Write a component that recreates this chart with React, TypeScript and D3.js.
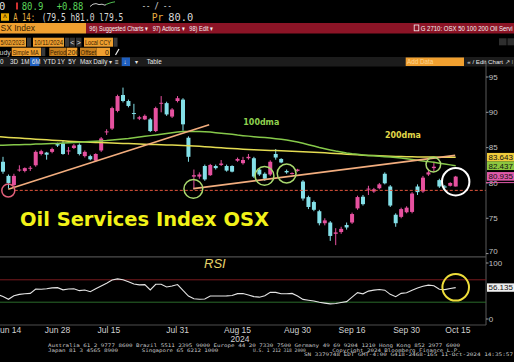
import React from "react";
import * as d3 from "d3";

// trading days shown (Jun 13 .. Oct 11, 2024)
const days = [
  "Jun 13", "Jun 14", "Jun 17", "Jun 18", "Jun 20", "Jun 21", "Jun 24", "Jun 25", "Jun 26", "Jun 27", "Jun 28",
  "Jul 1", "Jul 2", "Jul 3", "Jul 5", "Jul 8", "Jul 9", "Jul 10", "Jul 11", "Jul 12", "Jul 15", "Jul 16",
  "Jul 17", "Jul 18", "Jul 19", "Jul 22", "Jul 23", "Jul 24", "Jul 25", "Jul 26", "Jul 29", "Jul 30", "Jul 31",
  "Aug 1", "Aug 2", "Aug 5", "Aug 6", "Aug 7", "Aug 8", "Aug 9", "Aug 12", "Aug 13", "Aug 14", "Aug 15",
  "Aug 16", "Aug 19", "Aug 20", "Aug 21", "Aug 22", "Aug 23", "Aug 26", "Aug 27", "Aug 28", "Aug 29", "Aug 30",
  "Sep 3", "Sep 4", "Sep 5", "Sep 6", "Sep 9", "Sep 10", "Sep 11", "Sep 12", "Sep 13", "Sep 16", "Sep 17",
  "Sep 18", "Sep 19", "Sep 20", "Sep 23", "Sep 24", "Sep 25", "Sep 26", "Sep 27", "Sep 30",
  "Oct 1", "Oct 2", "Oct 3", "Oct 4", "Oct 7", "Oct 8", "Oct 9", "Oct 10", "Oct 11",
];

const opens = [
  83.0, 81.0, 79.7, 81.8, 81.7, 82.1, 82.5, 84.1, 84.3, 84.4, 85.5,
  85.6, 84.5, 84.95, 85.4, 83.8, 83.8, 83.15, 84.6, 87.2, 87.7, 90.2,
  92.45, 91.6, 89.9, 89.1, 89.0, 89.0, 87.35, 91.3, 91.3, 89.4, 91.6,
  91.8, 86.4, 80.9, 80.9, 82.4, 81.1, 82.4, 82.55, 82.4, 82.4, 83.15,
  82.8, 83.5, 83.5, 81.9, 81.3, 81.2, 84.1, 83.4, 81.7, 81.3, 81.7,
  80.2, 78.0, 77.3, 76.0, 74.3, 74.4, 72.8, 73.05, 74.05, 74.4, 76.4,
  78.05, 79.1, 78.8, 79.25, 81.3, 79.5, 75.5, 75.2, 75.85,
  75.9, 79.5, 78.8, 81.2, 82.1, 80.4, 79.5, 79.6, 79.5,
];
const highs = [
  83.7, 81.2, 81.3, 82.5, 82.2, 82.4, 84.6, 84.7, 84.4, 85.0, 85.7,
  86.0, 85.1, 85.5, 85.6, 84.6, 84.0, 84.2, 86.5, 87.6, 90.8, 92.5,
  93.5, 91.8, 91.2, 89.5, 89.7, 89.2, 90.8, 92.3, 91.5, 90.6, 92.3,
  92.0, 86.6, 81.9, 81.5, 82.6, 82.7, 82.6, 83.25, 82.6, 82.5, 83.6,
  83.7, 84.1, 83.7, 82.1, 81.5, 83.2, 84.8, 83.5, 81.9, 81.5, 82.0,
  80.4, 78.2, 77.5, 76.2, 75.0, 74.6, 73.6, 73.8, 74.4, 75.8, 78.2,
  78.3, 79.6, 79.3, 80.0, 81.5, 79.7, 75.7, 76.5, 76.7,
  78.7, 79.8, 81.0, 82.0, 83.0, 80.6, 79.7, 80.1, 81.0,
];
const lows = [
  81.3, 79.2, 79.4, 81.6, 81.5, 81.7, 82.3, 83.9, 83.3, 84.2, 85.1,
  84.0, 84.0, 84.8, 83.9, 83.6, 83.2, 83.0, 84.4, 86.8, 87.5, 90.0,
  91.4, 90.7, 89.0, 88.9, 88.9, 87.2, 87.2, 90.0, 89.5, 89.2, 91.4,
  87.4, 83.0, 79.1, 80.6, 80.3, 81.0, 81.9, 82.4, 81.6, 81.5, 83.0,
  82.6, 83.3, 80.7, 81.0, 80.3, 81.0, 83.3, 82.8, 81.3, 81.2, 81.6,
  77.5, 76.3, 76.0, 74.0, 74.0, 71.8, 71.2, 72.8, 73.4, 74.2, 76.2,
  76.8, 78.3, 78.6, 79.1, 79.8, 76.6, 73.8, 75.0, 75.7,
  75.7, 78.3, 78.6, 81.0, 81.6, 79.3, 79.2, 79.5, 79.5,
];
const closes = [
  81.6, 80.0, 81.0, 81.9, 82.1, 82.15, 84.4, 84.5, 84.0, 84.8, 85.3,
  84.1, 84.6, 85.3, 84.1, 84.4, 83.35, 84.1, 86.3, 87.3, 90.6, 92.3,
  91.6, 90.9, 89.8, 89.3, 89.5, 87.35, 90.6, 91.35, 89.7, 90.4, 92.0,
  88.3, 83.7, 81.1, 81.2, 80.5, 82.55, 82.1, 82.75, 81.75, 81.6, 83.4,
  83.25, 83.7, 80.9, 81.2, 80.6, 83.0, 83.6, 82.9, 81.5, 81.4, 81.9,
  77.8, 76.6, 76.2, 74.3, 74.7, 72.5, 73.0, 73.5, 73.7, 75.6, 78.0,
  77.0, 79.2, 79.1, 79.8, 79.95, 76.8, 74.3, 76.3, 76.5,
  78.5, 78.7, 80.75, 81.5, 82.3, 79.5, 79.4, 80.0, 80.9,
];

// moving averages and RSI start one session earlier (Jun 12)
const ma100 = [
  85.3, 85.35, 85.37, 85.4, 85.42, 85.44, 85.46, 85.5, 85.52, 85.55, 85.57, 85.6,
  85.65, 85.7, 85.74, 85.78, 85.82, 85.86, 85.9, 85.95, 86.0, 86.07, 86.14,
  86.22, 86.3, 86.4, 86.5, 86.6, 86.7, 86.8, 86.9, 87.0, 87.1, 87.2,
  87.27, 87.3, 87.3, 87.28, 87.25, 87.2, 87.12, 87.05, 86.97, 86.88, 86.78,
  86.7, 86.63, 86.55, 86.48, 86.42, 86.35, 86.27, 86.18, 86.07, 85.95, 85.8,
  85.62, 85.42, 85.22, 85.02, 84.85, 84.68, 84.52, 84.38, 84.25, 84.14, 84.05,
  83.97, 83.9, 83.84, 83.78, 83.72, 83.66, 83.6, 83.52, 83.42,
  83.32, 83.22, 83.12, 83.02, 82.92, 82.8, 82.68, 82.56, 82.44,
];
const ma200 = [
  86.55, 86.5, 86.45, 86.4, 86.35, 86.3, 86.25, 86.2, 86.15, 86.1, 86.05, 86.0,
  85.96, 85.92, 85.88, 85.84, 85.8, 85.77, 85.74, 85.71, 85.68, 85.65, 85.62,
  85.6, 85.57, 85.54, 85.51, 85.48, 85.45, 85.43, 85.41, 85.39, 85.37, 85.35,
  85.32, 85.28, 85.23, 85.18, 85.13, 85.08, 85.03, 84.98, 84.93, 84.88, 84.83,
  84.78, 84.74, 84.7, 84.67, 84.64, 84.61, 84.58, 84.55, 84.52, 84.49, 84.46,
  84.42, 84.38, 84.34, 84.3, 84.26, 84.22, 84.18, 84.13, 84.08, 84.03, 83.98,
  83.94, 83.9, 83.87, 83.84, 83.81, 83.78, 83.76, 83.74, 83.72,
  83.7, 83.69, 83.68, 83.67, 83.66, 83.65, 83.645, 83.64, 83.64,
];
const rsi = [
  44, 40, 35.2, 41.6, 44, 45, 45.8, 53.6, 53.2, 54, 55.5, 56,
  52, 53.5, 54, 50.6, 51.8, 48.8, 54, 59, 64, 69.5, 71.7,
  70, 66.5, 62.5, 61, 61.3, 51.8, 62, 62, 57.1, 59, 61.5,
  51, 41, 36.2, 35.3, 35.7, 41, 41, 41, 41.3, 42, 45.3,
  45.5, 43, 40, 39, 41.5, 47.5, 47.5, 45, 45, 45.7, 41,
  35, 33.5, 32, 29.8, 28.3, 27, 27.8, 29.5, 31, 39, 47,
  45, 49.8, 51.5, 52.8, 51.5, 44, 39.9, 45.8, 46.8,
  51.5, 55.5, 58.5, 60.5, 59.5, 53, 52.5, 54.5, 56.1,
];

const priceTicks = [70, 75, 80, 85, 90, 95];
const rsiTicks = [0, 100];
const dateLabels = ["Jun 14", "Jun 28", "Jul 15", "Jul 31", "Aug 15", "Aug 30", "Sep 16", "Sep 30", "Oct 15"];
const dateLabelPos = [1, 10, 19.4, 32, 43, 54, 64, 74, 83.4];

// annotations: [session index, price]
const trendA = [[0.97, 79.1], [37.8, 88.25]];
const trendB = [[34.9, 79.2], [82.9, 83.9]];
const supportLevel = 78.95;
const touchCircles = [[34.9, 79.17], [47.95, 81.0], [52.0, 81.34]];
const smallCircle = [78.9, 82.6];
const lowCircle = [0.97, 78.93];
const lastCircle = [83, 80.18];
const rsiCircle = [83, 56.6];

const lastValues = [83.643, 82.437, 80.935];
const lastRsi = 56.135;

const PINK = "#e6519f";
const CYAN = "#84e0e8";
const SANS = "Liberation Sans, Arial, sans-serif";
const MONO = "DejaVu Sans Mono, monospace";
const BOLD = "DejaVu Sans, Verdana, sans-serif";

function Header() {
  const org = "#f0a030";
  const dark = "#3a2200";
  return (
    <g>
      {/* row 1 */}
      <text x={-1} y={9.5} fontFamily={MONO} fontSize={10.5} fill="#e0e0e0">0</text>
      <rect x={16} y={2.5} width={2} height={7} fill="#d03030" />
      <text x={21.7} y={9.5} fontFamily={MONO} fontSize={10.5} fill="#5ad35a" textLength={21.6} lengthAdjust="spacingAndGlyphs">80.9</text>
      <text x={56.7} y={9.5} fontFamily={MONO} fontSize={10.5} fill="#5ad35a" textLength={26.6} lengthAdjust="spacingAndGlyphs">+0.88</text>
      <path d="M90,6.5 L93,4.2 L96,3.6 L99,4.6 L102,4.2 L105,5.2 L106,4.5" stroke="#e0e0e0" fill="none" strokeWidth={0.9} />
      <path d="M106,4.5 L109,3.3 L112,2.4 L115,1.8" stroke="#5ad35a" fill="none" strokeWidth={0.9} />
      <text x={141.7} y={9} fontFamily={MONO} fontSize={9} fill="#e0e0e0" textLength={30} lengthAdjust="spacingAndGlyphs">-- / --</text>
      {/* row 2 */}
      <rect x={1} y={13.3} width={8} height={7.5} fill="#e8a800" />
      <text x={5} y={19.6} fontFamily={SANS} fontSize={6.5} fill="#3a2200" textAnchor="middle" fontWeight="bold">^</text>
      <text x={13.3} y={20.6} fontFamily={MONO} fontSize={10} fill="#e8b040" textLength={21.7} lengthAdjust="spacingAndGlyphs">A 14:</text>
      <text x={41.7} y={20.6} fontFamily={MONO} fontSize={10} fill="#d8d8d8" textLength={81.6} lengthAdjust="spacingAndGlyphs">(79.5 h81.0 l79.5</text>
      <text x={151.7} y={20.6} fontFamily={MONO} fontSize={10} fill="#e8b040" textLength={11.6} lengthAdjust="spacingAndGlyphs">Pr</text>
      <text x={168.3} y={20.6} fontFamily={MONO} fontSize={10} fill="#d8d8d8" textLength={25} lengthAdjust="spacingAndGlyphs">80.0</text>
      {/* row 3 */}
      <rect x={0} y={23} width={86} height={10.5} fill={org} />
      <text x={0.5} y={31.3} fontFamily={SANS} fontSize={8.5} fill={dark}>SX Index</text>
      <rect x={86} y={23} width={428} height={10.5} fill="#8c1426" />
      <text x={89.3} y={31} fontFamily={SANS} fontSize={7} fill="#f4f4f4" textLength={59} lengthAdjust="spacingAndGlyphs">96) Suggested Charts ▾</text>
      <text x={152.7} y={31} fontFamily={SANS} fontSize={7} fill="#f4f4f4" textLength={32} lengthAdjust="spacingAndGlyphs">97) Actions ▾</text>
      <text x={189.3} y={31} fontFamily={SANS} fontSize={7} fill="#f4f4f4" textLength={24} lengthAdjust="spacingAndGlyphs">98) Edit ▾</text>
      <rect x={414.2} y={25} width={4.6} height={5.8} fill="none" stroke="#f4f4f4" strokeWidth={0.8} />
      <text x={420.7} y={31} fontFamily={SANS} fontSize={7} fill="#f4f4f4" textLength={92} lengthAdjust="spacingAndGlyphs">G 2710: OSX 50 100 200 Oil Servi</text>
      {/* row 4 */}
      <rect x={0} y={37.7} width={26} height={9} fill={org} />
      <text x={0.5} y={44.8} fontFamily={SANS} fontSize={7} fill={dark} textLength={24} lengthAdjust="spacingAndGlyphs">5/02/2023</text>
      <rect x={27} y={37.7} width={4} height={9} fill="#3a3a3a" />
      <rect x={33} y={37.7} width={31} height={9} fill={org} />
      <text x={34} y={44.8} fontFamily={SANS} fontSize={7} fill={dark} textLength={29} lengthAdjust="spacingAndGlyphs">10/11/2024</text>
      <rect x={65} y={37.7} width={4} height={9} fill="#3a3a3a" />
      <rect x={69.5} y={37.7} width={5.5} height={9} fill="#2e2e2e" />
      <text x={72.2} y={44.5} fontFamily={SANS} fontSize={7} fill="#e0e0e0" textAnchor="middle">&lt;</text>
      <rect x={76} y={37.7} width={5.5} height={9} fill="#2e2e2e" />
      <text x={78.7} y={44.5} fontFamily={SANS} fontSize={7} fill="#e0e0e0" textAnchor="middle">&gt;</text>
      <rect x={84} y={37.7} width={29} height={9} fill={org} />
      <text x={85} y={44.8} fontFamily={SANS} fontSize={7} fill={dark} textLength={26} lengthAdjust="spacingAndGlyphs">Local CCY</text>
      <rect x={113.5} y={37.7} width={4} height={9} fill="#3a3a3a" />
      <rect x={499} y={38.3} width={7.5} height={7} fill="#2e2e2e" />
      <rect x={507.5} y={38.3} width={7} height={7} fill="#2e2e2e" />
      {/* row 5 */}
      <text x={-0.5} y={54.5} fontFamily={SANS} fontSize={7} fill="#cfcfcf">udy</text>
      <rect x={11.7} y={47.7} width={29.3} height={8.3} fill={org} />
      <text x={12.5} y={54.5} fontFamily={SANS} fontSize={7} fill={dark} textLength={26} lengthAdjust="spacingAndGlyphs">Simple MA</text>
      <rect x={41.3} y={47.7} width={4} height={8.3} fill="#3a3a3a" />
      <rect x={49.3} y={47.7} width={17.3} height={8.3} fill="#c8801e" />
      <text x={50} y={54.5} fontFamily={SANS} fontSize={7} fill={dark} textLength={16} lengthAdjust="spacingAndGlyphs">Period</text>
      <rect x={67} y={47.7} width={10.3} height={8.3} fill={org} />
      <text x={67.6} y={54.5} fontFamily={SANS} fontSize={7} fill={dark}>200</text>
      <rect x={80} y={47.7} width={16.7} height={8.3} fill="#c8801e" />
      <text x={80.6} y={54.5} fontFamily={SANS} fontSize={7} fill={dark} textLength={15.5} lengthAdjust="spacingAndGlyphs">Offset</text>
      <rect x={96.7} y={47.7} width={13.3} height={8.3} fill={org} />
      <text x={109} y={54.5} fontFamily={SANS} fontSize={7} fill={dark} textAnchor="end">0</text>
      <path d="M115.5,55 L119,49" stroke="#f0f0f0" strokeWidth={1.2} />
      {/* row 6 */}
      <rect x={0} y={57} width={514} height={9.5} fill="#1c1c1c" />
      <rect x={30} y={57.5} width={9.3} height={8.5} fill="#1f5fbf" />
      <rect x={121.7} y={57.5} width={8.3} height={8.5} fill="#1f5fbf" />
      {[["0", 0], ["3D", 10], ["1M", 20.7], ["6M", 31.7], ["YTD", 43.3], ["1Y", 57.3], ["5Y", 68.3], ["Max", 80], ["Daily ▾", 93.3], ["≡", 115], ["↓", 123.5], ["▾", 134.5], ["Table", 146.7]].map(([t, px]) => (
        <text key={t as string} x={px as number} y={64} fontFamily={SANS} fontSize={6.3} fill="#e8e8e8">{t}</text>
      ))}
      <rect x={405.7} y={57.5} width={58.3} height={8.5} fill={org} />
      <text x={407} y={64} fontFamily={SANS} fontSize={6.3} fill="#ffd690">Add Data</text>
      <text x={467.3} y={64} fontFamily={SANS} fontSize={6} fill="#e8e8e8" textLength={46} lengthAdjust="spacingAndGlyphs">« / Edit Chart ↗ ⁞</text>
    </g>
  );
}

export default function App() {
  const x = d3.scaleLinear().domain([0, 83]).range([3, 455.7]);
  const y = d3.scaleLinear().domain([70, 95]).range([253.6, 77]);
  const yr = d3.scaleLinear().domain([0, 100]).range([319, 263]);
  const axisX = 486;

  const maLine = d3.line<number>().x((_, i) => x(i - 1)).y((d) => y(d));
  const rsiLine = d3.line<number>().x((_, i) => x(i - 1)).y((d) => yr(d));
  const seg = d3.line<number[]>().x((d) => x(d[0])).y((d) => y(d[1]));

  const bw = 4;
  const boxColors = ["#f0cc3c", "#8cc63f", "#e05aaa"];

  return (
    <svg width={514} height={362} style={{ position: "absolute", left: 0, top: 0, background: "#000" }}>
      <defs>
        <clipPath id="plot">
          <rect x={0} y={66} width={axisX} height={192} />
        </clipPath>
        <clipPath id="rsiplot">
          <rect x={0} y={258} width={axisX} height={66} />
        </clipPath>
      </defs>
      <rect x={0} y={0} width={514} height={362} fill="#000" />
      <Header />

      {/* main panel */}
      <g clipPath="url(#plot)">
        {opens.map((o, i) => {
          const c = closes[i];
          const col = c >= o ? PINK : CYAN;
          const top = y(Math.max(o, c));
          const h = Math.max(1, Math.abs(y(o) - y(c)));
          return (
            <g key={days[i]}>
              <line x1={x(i)} x2={x(i)} y1={y(highs[i])} y2={y(lows[i])} stroke={col} strokeWidth={1} />
              <rect x={x(i) - bw / 2} y={top} width={bw} height={h} fill={col} />
            </g>
          );
        })}
        <path d={maLine(ma200) || ""} fill="none" stroke="#e4dc52" strokeWidth={1.5} />
        <path d={maLine(ma100) || ""} fill="none" stroke="#86c94a" strokeWidth={1.5} />
        <path d={seg(trendA) || ""} fill="none" stroke="#f2ad7e" strokeWidth={1.6} />
        <path d={seg(trendB) || ""} fill="none" stroke="#f2ad7e" strokeWidth={1.6} />
        <line x1={x(lowCircle[0]) + 6.5} x2={axisX} y1={y(supportLevel)} y2={y(supportLevel)} stroke="#e0553c" strokeWidth={1} strokeDasharray="3,2" />
        <circle cx={x(lowCircle[0])} cy={y(lowCircle[1])} r={6.5} fill="none" stroke="#e0607a" strokeWidth={1.5} />
        {touchCircles.map((p, k) => (
          <circle key={k} cx={x(p[0])} cy={y(p[1])} r={9.4} fill="none" stroke="#a9d86e" strokeWidth={1.5} />
        ))}
        <circle cx={x(smallCircle[0])} cy={y(smallCircle[1])} r={7.3} fill="none" stroke="#a9d86e" strokeWidth={1.5} />
        <circle cx={x(lastCircle[0])} cy={y(lastCircle[1])} r={13.7} fill="none" stroke="#ffffff" strokeWidth={2} />
      </g>

      <text x={243.3} y={125} fontFamily={BOLD} fontWeight="bold" fontSize={8.5} fill="#8fd14f" textLength={36} lengthAdjust="spacingAndGlyphs">100dma</text>
      <text x={385} y={138} fontFamily={BOLD} fontWeight="bold" fontSize={8.5} fill="#e0d84a" textLength={36} lengthAdjust="spacingAndGlyphs">200dma</text>
      <text x={20} y={225.6} fontFamily={BOLD} fontWeight="bold" fontSize={19.5} fill="#f2f218" textLength={249} lengthAdjust="spacingAndGlyphs">Oil Services Index OSX</text>

      {/* right price axis */}
      <line x1={axisX} x2={axisX} y1={62} y2={325} stroke="#5a5a5a" strokeWidth={1} />
      {priceTicks.map((t) => (
        <g key={t}>
          <line x1={axisX} x2={axisX + 2.5} y1={y(t)} y2={y(t)} stroke="#9a9a9a" />
          <text x={axisX + 2.8} y={Math.min(y(t), 251.8)} dy="0.33em" fontFamily={SANS} fontSize={8} fill="#c0c0c0">{t}</text>
        </g>
      ))}
      <line x1={axisX} x2={514} y1={182.6} y2={182.6} stroke={boxColors[2]} strokeWidth={1} />
      {lastValues.map((v, k) => (
        <g key={v}>
          <rect x={axisX + 1} y={y(v) - 4.3} width={28} height={8.6} fill={boxColors[k]} />
          <text x={axisX + 2.5} y={y(v)} dy="0.35em" fontFamily={SANS} fontSize={8} fill="#111">{v.toFixed(3)}</text>
        </g>
      ))}

      {/* RSI panel */}
      <line x1={0} x2={axisX} y1={256.8} y2={256.8} stroke="#4e4e4e" strokeWidth={1.2} />
      <line x1={0} x2={axisX} y1={325} y2={325} stroke="#4e4e4e" strokeWidth={1.2} />
      <line x1={0} x2={axisX} y1={yr(70)} y2={yr(70)} stroke="#7a1a1e" strokeWidth={1} />
      <line x1={0} x2={axisX} y1={yr(30)} y2={yr(30)} stroke="#2a6a2a" strokeWidth={1} />
      <text x={204} y={268} fontFamily={SANS} fontStyle="italic" fontSize={13} fill="#e6d36a">RSI</text>
      <g clipPath="url(#rsiplot)">
        <path d={rsiLine(rsi) || ""} fill="none" stroke="#e4e4e4" strokeWidth={1.1} />
      </g>
      <circle cx={x(rsiCircle[0])} cy={yr(rsiCircle[1])} r={13.3} fill="none" stroke="#eedd3a" strokeWidth={2} />
      {rsiTicks.map((t) => (
        <g key={t}>
          <line x1={axisX} x2={axisX + 2.5} y1={yr(t)} y2={yr(t)} stroke="#9a9a9a" />
          <text x={axisX + 2.8} y={yr(t)} dy="0.33em" fontFamily={SANS} fontSize={8} fill="#c0c0c0">{t}</text>
        </g>
      ))}
      <rect x={axisX + 1} y={yr(lastRsi) - 4.2} width={28} height={8.4} fill="#eeeeee" />
      <text x={axisX + 2.5} y={yr(lastRsi)} dy="0.35em" fontFamily={SANS} fontSize={8} fill="#111">{lastRsi.toFixed(3)}</text>

      {/* date axis */}
      {dateLabels.map((t, k) => (
        <text key={t} x={x(dateLabelPos[k])} y={333.3} textAnchor="middle" fontFamily={SANS} fontSize={8.5} fill="#d0d0d0">{t}</text>
      ))}
      <text x={240} y={341.7} textAnchor="middle" fontFamily={SANS} fontSize={8.5} fill="#d0d0d0">2024</text>

      {/* footer */}
      <g fontFamily={MONO} fontSize={4.8} fill="#c8c8c8">
        <text x={48} y={347.4} textLength={412} lengthAdjust="spacingAndGlyphs">Australia 61 2 9777 8600 Brazil 5511 2395 9000 Europe 44 20 7330 7500 Germany 49 69 9204 1210 Hong Kong 852 2977 6000</text>
        <text x={48} y={351.8} textLength={70} lengthAdjust="spacingAndGlyphs">Japan 81 3 4565 8900</text>
        <text x={141.7} y={351.8} textLength={76.6} lengthAdjust="spacingAndGlyphs">Singapore 65 6212 1000</text>
        <text x={253} y={351.8} textLength={52.7} lengthAdjust="spacingAndGlyphs">U.S. 1 212 318 2000</text>
        <text x={332.3} y={351.8} textLength={128.4} lengthAdjust="spacingAndGlyphs">Copyright 2024 Bloomberg Finance L.P.</text>
        <text x={304} y={356.3} textLength={209} lengthAdjust="spacingAndGlyphs">SN 3379748 EDT  GMT-4:00 G418-2468-165 11-Oct-2024 14:35:57</text>
      </g>
    </svg>
  );
}
